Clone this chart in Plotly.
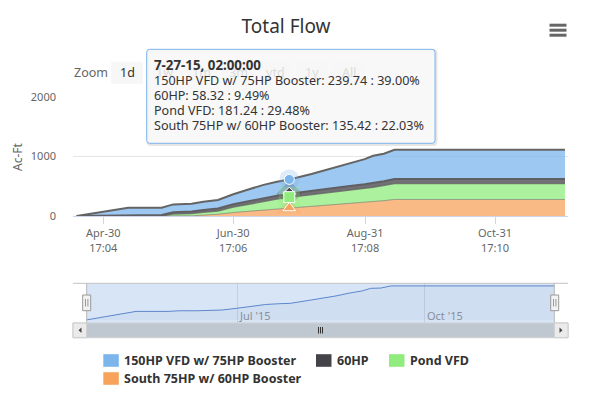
import plotly.graph_objects as go

# ---------------- data ----------------
dates = ["2015-04-18 05:00", "2015-04-24 11:00", "2015-04-30 17:04", "2015-05-08 12:00",
         "2015-05-12 10:00", "2015-05-28 03:00", "2015-06-02 14:00", "2015-06-11 05:00",
         "2015-06-16 17:00", "2015-06-23 14:00", "2015-06-30 19:00", "2015-07-08 14:00",
         "2015-07-15 00:00", "2015-07-21 06:00", "2015-07-27 02:00", "2015-08-06 12:00",
         "2015-08-12 12:00", "2015-08-18 12:00", "2015-08-24 12:00", "2015-08-31 12:00",
         "2015-09-04 12:00", "2015-09-09 12:00", "2015-09-14 12:00", "2015-12-03 14:00"]

hp150 = [0, 32, 62, 98, 123, 123, 132, 132, 140, 143, 168, 200, 223, 234, 239.74,
         289, 317, 347, 385, 421, 457, 461, 492, 492]
hp60 = [0, 3, 8, 12, 15, 17, 28, 33, 38, 42, 46, 50, 53, 56, 58.32,
        61, 63, 65, 67, 69, 70, 72, 73, 73]
pond = [0, 0, 0, 0, 0, 0, 35, 39, 47, 53, 92, 125, 152, 169, 181.24,
        197, 206, 213, 224, 236, 243, 255, 269, 269]
south = [0, 0, 0, 0, 0, 0, 0, 3, 15, 30, 59, 80, 95, 115, 135.42,
         160, 178, 195, 212, 230, 242, 258, 278, 278]

series_names = ["150HP VFD w/ 75HP Booster", "60HP", "Pond VFD", "South 75HP w/ 60HP Booster"]
series_colors = ["#7cb5ec", "#434348", "#90ed7d", "#f7a35c"]

x_tick_vals = ["2015-04-30 17:04", "2015-06-30 17:06", "2015-08-31 17:08", "2015-10-31 17:10"]
x_tick_text = ["Apr-30<br>17:04", "Jun-30<br>17:06", "Aug-31<br>17:08", "Oct-31<br>17:10"]
y_tick_vals = [0, 1000, 2000]
nav_tick_vals = ["2015-07-01", "2015-10-01"]
nav_tick_text = ["Jul '15", "Oct '15"]
zoom_buttons = ["1d", "1w", "1m", "3m", "ytd", "1y", "All"]
hover_index = 14
tooltip_header = "7-27-15, 02:00:00"

FONT = "Noto Sans, Open Sans, sans-serif"

# ---------------- geometry helpers (pixel -> paper) ----------------
L, R, T, B = 73, 568, 97, 338
W, H = R - L, B - T


def px(x):
    return (x - L) / W


def py(y):
    return (B - y) / H


def rrect(x0, y0, x1, y1, r):
    a0, a1 = px(x0), px(x1)
    b0, b1 = py(y0), py(y1)
    rx, ry = r / W, r / H
    return (f"M{a0+rx},{b0} L{a1-rx},{b0} Q{a1},{b0} {a1},{b0-ry} "
            f"L{a1},{b1+ry} Q{a1},{b1} {a1-rx},{b1} L{a0+rx},{b1} "
            f"Q{a0},{b1} {a0},{b1+ry} L{a0},{b0-ry} Q{a0},{b0} {a0+rx},{b0} Z")


fig = go.Figure()

# ---------------- main stacked areas ----------------
stack_order = [(south, 3, "rgba(100,100,100,0.55)", 1),
               (pond, 2, "rgba(100,100,100,0.8)", 1.5),
               (hp60, 1, "#606064", 2),
               (hp150, 0, "#646464", 2)]
for vals, idx, lc, lw in stack_order:
    c = series_colors[idx]
    r_, g_, b_ = int(c[1:3], 16), int(c[3:5], 16), int(c[5:7], 16)
    fig.add_trace(go.Scatter(
        x=dates, y=vals, name=series_names[idx], stackgroup="one", mode="lines",
        line=dict(color=lc, width=lw), fillcolor=f"rgba({r_},{g_},{b_},0.75)",
        xaxis="x", yaxis="y", showlegend=False, hoverinfo="skip"))

# hovered point markers
i = hover_index
s_top = south[i]
p_top = s_top + pond[i]
d_top = p_top + hp60[i]
t_top = d_top + hp150[i]
marker_specs = [(t_top, 0, "circle", 10), (d_top, 1, "diamond", 10),
                (p_top, 2, "square", 11), (s_top, 3, "triangle-up", 11)]
for yv, idx, sym, sz in marker_specs:
    c = series_colors[idx]
    r_, g_, b_ = int(c[1:3], 16), int(c[3:5], 16), int(c[5:7], 16)
    fig.add_trace(go.Scatter(x=[dates[i]], y=[yv], mode="markers", xaxis="x", yaxis="y",
                             marker=dict(symbol=sym, size=sz + 10, color=f"rgba({r_},{g_},{b_},0.25)",
                                         line=dict(width=0)),
                             showlegend=False, hoverinfo="skip"))
for yv, idx, sym, sz in marker_specs:
    fig.add_trace(go.Scatter(x=[dates[i]], y=[yv], mode="markers", xaxis="x", yaxis="y",
                             marker=dict(symbol=sym, size=sz, color=series_colors[idx],
                                         line=dict(width=1, color="#ffffff")),
                             showlegend=False, hoverinfo="skip"))

# ---------------- navigator series ----------------
fig.add_trace(go.Scatter(x=dates, y=hp150, mode="lines", xaxis="x2", yaxis="y2",
                         line=dict(color="#5d86cc", width=1), fill="tozeroy",
                         fillcolor="rgba(51,92,173,0.05)", showlegend=False, hoverinfo="skip"))

shapes = []
annotations = []

# navigator background (mask)
shapes.append(dict(type="rect", xref="x2 domain", yref="y2 domain", x0=0, x1=1, y0=0, y1=1,
                   fillcolor="#d8e5f6", line=dict(width=0), layer="below"))
# navigator outline
shapes.append(dict(type="line", xref="paper", yref="paper", x0=px(73), x1=px(568), y0=py(283.3), y1=py(283.3),
                   line=dict(color="#c4c4c4", width=1)))
for xx in (86.7, 554.3):
    shapes.append(dict(type="line", xref="paper", yref="paper", x0=px(xx), x1=px(xx), y0=py(283.3), y1=py(323),
                       line=dict(color="#b8b8b8", width=1)))
# scrollbar
shapes.append(dict(type="rect", xref="paper", yref="paper", x0=px(73), x1=px(568), y0=py(337.7), y1=py(323),
                   fillcolor="#f2f2f2", line=dict(color="#cccccc", width=1)))
shapes.append(dict(type="rect", xref="paper", yref="paper", x0=px(86.7), x1=px(554.3), y0=py(337.2), y1=py(323.3),
                   fillcolor="#bfc7d0", line=dict(color="#bfc7d0", width=0)))
for xa, xb in ((73, 86.7), (554.3, 568)):
    shapes.append(dict(type="rect", xref="paper", yref="paper", x0=px(xa), x1=px(xb), y0=py(337.7), y1=py(323),
                       fillcolor="#ebebeb", line=dict(color="#cccccc", width=1)))
shapes.append(dict(type="path", xref="paper", yref="paper",
                   path=f"M{px(81.5)},{py(327.5)} L{px(81.5)},{py(333)} L{px(78.5)},{py(330.2)} Z",
                   fillcolor="#444444", line=dict(width=0)))
shapes.append(dict(type="path", xref="paper", yref="paper",
                   path=f"M{px(559.5)},{py(327.5)} L{px(559.5)},{py(333)} L{px(562.5)},{py(330.2)} Z",
                   fillcolor="#444444", line=dict(width=0)))
for gx in (318.5, 320.5, 322.5):
    shapes.append(dict(type="line", xref="paper", yref="paper", x0=px(gx), x1=px(gx), y0=py(327), y1=py(333.5),
                       line=dict(color="#333333", width=1)))
# navigator handles
for cx in (86.7, 554.7):
    shapes.append(dict(type="rect", xref="paper", yref="paper", x0=px(cx - 4), x1=px(cx + 4), y0=py(310.7), y1=py(295),
                       fillcolor="#f2f2f2", line=dict(color="#999999", width=1)))
    for dx in (-1.2, 1.2):
        shapes.append(dict(type="line", xref="paper", yref="paper", x0=px(cx + dx), x1=px(cx + dx),
                           y0=py(299), y1=py(306.5), line=dict(color="#999999", width=1)))

# navigator labels
for tv, tt in zip(nav_tick_vals, nav_tick_text):
    annotations.append(dict(x=tv, xref="x2", y=py(315), yref="paper", text=tt, showarrow=False,
                            xanchor="left", yanchor="middle", xshift=0,
                            font=dict(family=FONT, size=11, color="#8a8f99")))

# hamburger menu
for yy in (25.2, 30.2, 35.2):
    shapes.append(dict(type="line", xref="paper", yref="paper", x0=px(549.5), x1=px(566.5), y0=py(yy), y1=py(yy),
                       line=dict(color="#666666", width=3)))

# range selector buttons
bx = 111
for k, lab in enumerate(zoom_buttons):
    shapes.append(dict(type="rect", xref="paper", yref="paper", x0=px(bx), x1=px(bx + 32), y0=py(83.7), y1=py(61.7),
                       fillcolor="#f7f7f7", line=dict(width=0)))
    annotations.append(dict(x=px(bx + 16), y=py(72.5), xref="paper", yref="paper", text=lab, showarrow=False,
                            xanchor="center", yanchor="middle",
                            font=dict(family=FONT, size=12.5, color="#333333" if k == 0 else "#dcdcdc")))
    bx += 37
annotations.append(dict(x=px(72), y=py(72.5), xref="paper", yref="paper", text="Zoom", showarrow=False,
                        xanchor="left", yanchor="middle", font=dict(family=FONT, size=12.5, color="#666666")))

# tooltip
shapes.append(dict(type="path", xref="paper", yref="paper", path=rrect(148, 50.5, 436, 144.5, 3),
                   fillcolor="rgba(0,0,0,0)", line=dict(color="rgba(0,0,0,0.10)", width=3)))
shapes.append(dict(type="path", xref="paper", yref="paper", path=rrect(146.7, 49.3, 435, 143.3, 3),
                   fillcolor="rgba(247,247,247,0.88)", line=dict(color=series_colors[0], width=1)))
annotations.append(dict(x=px(152), y=py(65), xref="paper", yref="paper", text=f"<b>{tooltip_header}</b>",
                        showarrow=False, xanchor="left", yanchor="middle",
                        font=dict(family=FONT, size=13.3, color="#333333")))
vals_at = [hp150[i], hp60[i], pond[i], south[i]]
for k, (nm, v) in enumerate(zip(series_names, vals_at)):
    annotations.append(dict(x=px(152), y=py(80.5 + 15 * k), xref="paper", yref="paper",
                            text=f"{nm}: {v:.2f} : {v / t_top * 100:.2f}%",
                            showarrow=False, xanchor="left", yanchor="middle",
                            font=dict(family=FONT, size=12.6, color="#333333")))

# y-axis title
annotations.append(dict(x=px(17), y=py(157), xref="paper", yref="paper", text="Ac-Ft", textangle=-90,
                        showarrow=False, xanchor="center", yanchor="middle",
                        font=dict(family=FONT, size=12, color="#666666")))

# legend
legend_items = [(0, 103.3, 360.5), (1, 316, 360.5), (2, 389, 360.5), (3, 103.3, 378.5)]
for idx, lx, ly in legend_items:
    shapes.append(dict(type="rect", xref="paper", yref="paper", x0=px(lx), x1=px(lx + 15.5),
                       y0=py(ly + 6.3), y1=py(ly - 6.3), fillcolor=series_colors[idx], line=dict(width=0)))
    annotations.append(dict(x=px(lx + 19), y=py(ly), xref="paper", yref="paper", text=f"<b>{series_names[idx]}</b>",
                            showarrow=False, xanchor="left", yanchor="middle",
                            font=dict(family=FONT, size=12.5, color="#333333")))

fig.update_layout(
    width=593, height=397,
    margin=dict(l=L, r=593 - R, t=T, b=397 - B, pad=0),
    paper_bgcolor="#ffffff", plot_bgcolor="rgba(0,0,0,0)",
    title=dict(text="Total Flow", xref="container", x=286 / 593, xanchor="center",
               yref="container", y=1 - 26.5 / 397, yanchor="middle",
               font=dict(family=FONT, size=19, color="#333333")),
    showlegend=False, hovermode=False,
    xaxis=dict(domain=[0, 1], anchor="y", type="date",
               range=["2015-04-16 11:30", "2015-12-05 00:10"],
               tickmode="array", tickvals=x_tick_vals, ticktext=x_tick_text,
               ticks="outside", ticklen=7, tickcolor="#ccd6eb", tickwidth=1,
               showline=True, linecolor="#ccd6eb", linewidth=1, showgrid=False, zeroline=False,
               tickfont=dict(family=FONT, size=11, color="#666666")),
    yaxis=dict(domain=[py(216), 1], anchor="x", range=[0, 2000], tickmode="array", tickvals=y_tick_vals,
               showgrid=True, gridcolor="#e6e6e6", gridwidth=1, zeroline=False, showline=False,
               ticks="", ticklabelstandoff=16,
               tickfont=dict(family=FONT, size=11, color="#666666")),
    xaxis2=dict(domain=[px(86.7), px(554.3)], anchor="y2", type="date",
                range=[dates[0], dates[-1]], tickmode="array", tickvals=nav_tick_vals,
                showticklabels=False, showgrid=True, gridcolor="#c3cfe2", zeroline=False, showline=False,
                ticks=""),
    yaxis2=dict(domain=[py(323), py(283.3)], anchor="x2", range=[-45, 530], visible=False),
    shapes=shapes, annotations=annotations,
)

fig.write_html("out.html", config={"displayModeBar": False},
               post_script="document.body.style.margin='0';document.body.style.padding='0';")
